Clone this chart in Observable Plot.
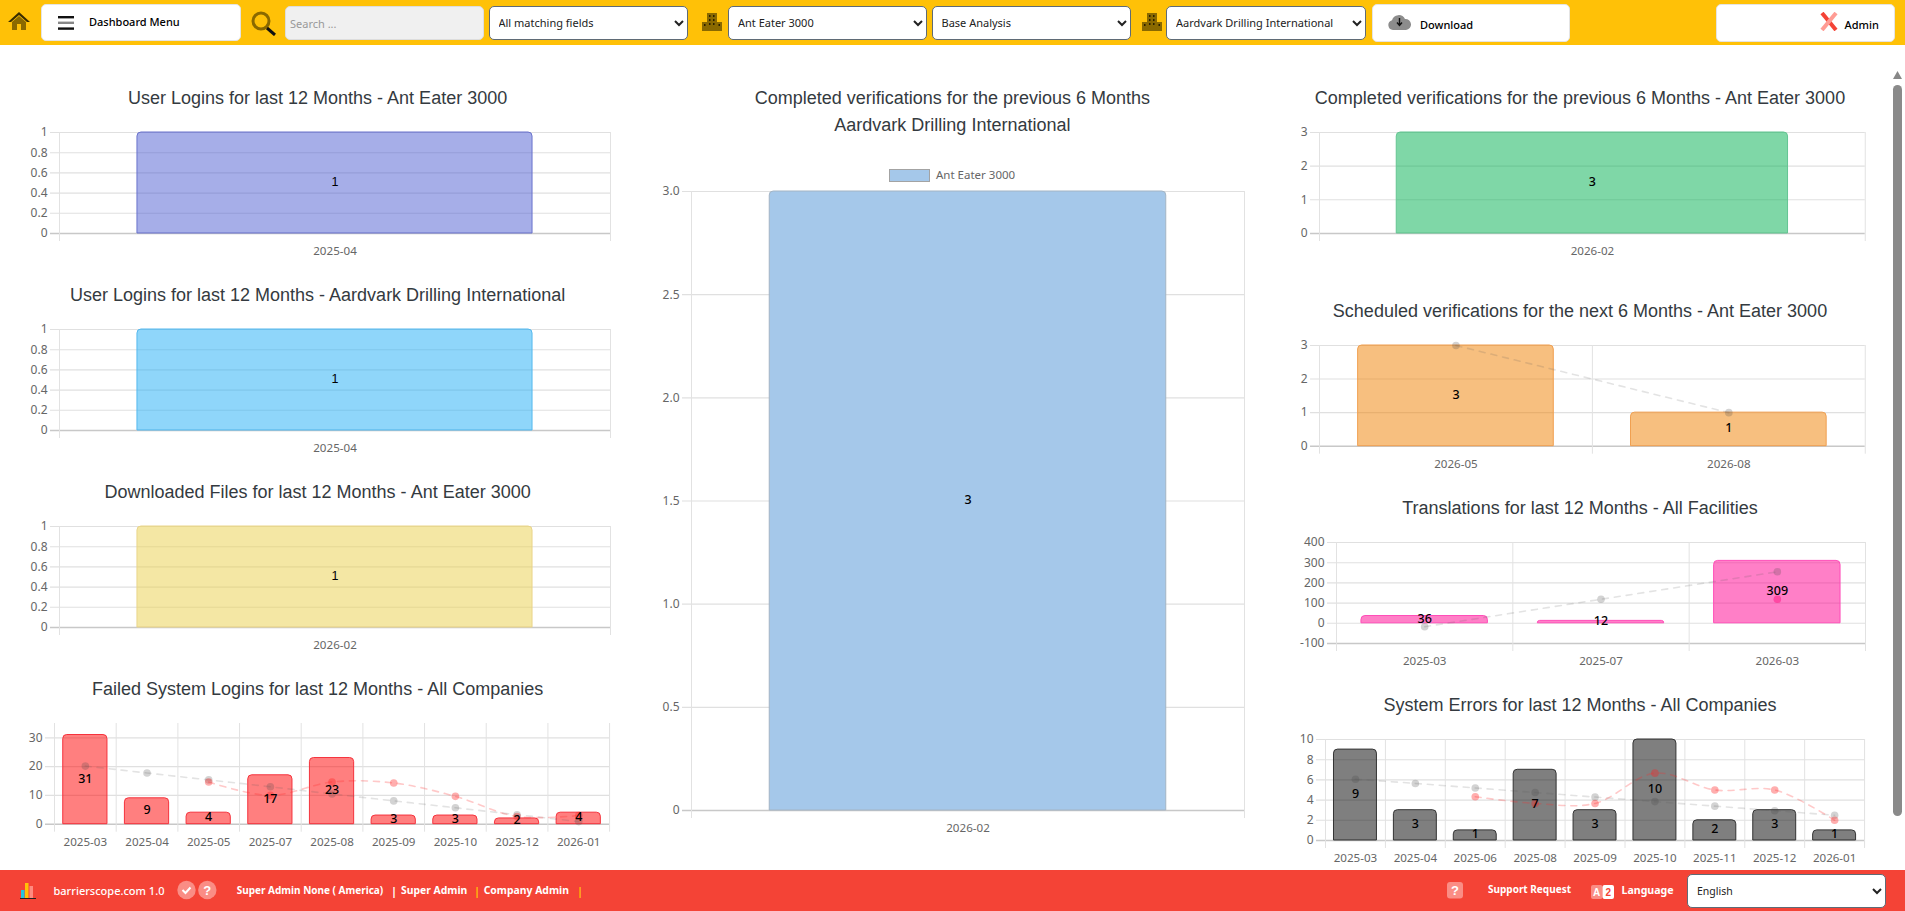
<!DOCTYPE html>
<html><head><meta charset="utf-8"><title>Dashboard</title>
<script src="https://cdn.jsdelivr.net/npm/d3@7"></script>
<script src="https://cdn.jsdelivr.net/npm/@observablehq/plot@0.6"></script>
<style>
html,body{margin:0;padding:0;width:1905px;height:911px;overflow:hidden;background:#fff;font-family:"Liberation Sans",Arial,sans-serif}
.abs{position:absolute}
#head{left:0;top:0;width:1905px;height:45px;background:#ffc107}
#foot{left:0;top:870px;width:1905px;height:41px;background:#f44336}
.btn{position:absolute;background:#fff;border:1px solid #e4e4e4;border-radius:5px;box-sizing:border-box}
select{position:absolute;box-sizing:border-box;top:5.5px;height:34px;background:#fff;border:1px solid #5f6b76;border-radius:5px;font:11px "Noto Sans",sans-serif;color:#222;padding-left:5px}
.t{position:absolute;white-space:nowrap;transform:translateY(-50%)}
.title{position:absolute;transform:translate(-50%,-50%);white-space:nowrap;font:18px "Liberation Sans",Arial,sans-serif;color:#343a40}
.ft{font:bold 11px "Noto Sans",sans-serif;color:#fff}
.panel{position:absolute}
.panel svg{display:block;overflow:visible;background:transparent}
</style></head><body>
<div id="head" class="abs"></div>
<div id="foot" class="abs"></div>
<div id="charts"></div>
<script>
// ---------- data ----------
const loginCompanyMonths = ["2025-04"], loginCompanyValues = [1];
const loginClientMonths = ["2025-04"], loginClientValues = [1];
const downloadMonths = ["2026-02"], downloadValues = [1];
const failedMonths = ["2025-03","2025-04","2025-05","2025-07","2025-08","2025-09","2025-10","2025-12","2026-01"];
const failedValues = [31,9,4,17,23,3,3,2,4];
const failedTrend = [20.2,17.8,15.4,13,10.5,8.1,5.7,3.3,0.9];
const failedAverage = [null,null,14.67,10,14.67,14.33,9.67,2.67,3];
const completedClientMonths = ["2026-02"], completedClientValues = [3];
const completedMonths = ["2026-02"], completedValues = [3];
const scheduledMonths = ["2026-05","2026-08"], scheduledValues = [3,1], scheduledTrend = [3,1];
const translationMonths = ["2025-03","2025-07","2026-03"];
const translationValues = [36,12,309];
const translationTrend = [-17,119,255];
const translationAverage = [null,null,119];
const errorMonths = ["2025-03","2025-04","2025-06","2025-08","2025-09","2025-10","2025-11","2025-12","2026-01"];
const errorValues = [9,3,1,7,3,10,2,3,1];
const errorTrend = [6.07,5.65,5.2,4.75,4.3,3.85,3.4,2.95,2.5];
const errorAverage = [null,null,4.33,3.67,3.67,6.67,5,5,2];
const unitTicks = [0,0.2,0.4,0.6,0.8,1];
const companyTicks = [0,1,2,3];
const failedTicks = [0,10,20,30];
const translationTicks = [-100,0,100,200,300,400];
const errorTicks = [0,2,4,6,8,10];
const bigTicks = [0,0.5,1,1.5,2,2.5,3];
const titles = {
  a:"User Logins for last 12 Months - Ant Eater 3000",
  b:"User Logins for last 12 Months - Aardvark Drilling International",
  c:"Downloaded Files for last 12 Months - Ant Eater 3000",
  d:"Failed System Logins for last 12 Months - All Companies",
  e:["Completed verifications for the previous 6 Months","Aardvark Drilling International"],
  f:"Completed verifications for the previous 6 Months - Ant Eater 3000",
  g:"Scheduled verifications for the next 6 Months - Ant Eater 3000",
  h:"Translations for last 12 Months - All Facilities",
  i:"System Errors for last 12 Months - All Companies"
};

// ---------- chart helper ----------
const holder = document.getElementById("charts");
const ML = 46, MT = 12, MB = 26, MR = 4, TICK_L = 9, TICK_B = 8;
const sans = '"Noto Sans",sans-serif', arial = '"Liberation Sans",Arial,sans-serif';
function chart(o){
  const plotW = o.right - o.left, plotH = o.bottom - o.top;
  const n = o.months.length, step = plotW / n;
  const rows = o.months.map((m,i)=>({m, v:o.values[i], t:o.trend?o.trend[i]:null, a:o.average?o.average[i]:null}));
  const dom = o.domain;
  const band = o.band || 0.283;
  const gridEdges = [{m:o.months[0],dx:-step/2}].concat(o.months.map(m=>({m,dx:step/2})));
  const marks = [
    ...o.ticks.map(t=>Plot.ruleY([t],{stroke:t===dom[0]?"#c8c8c8":"#e0e0e0",strokeWidth:t===dom[0]?1.4:1.1})),
    ...gridEdges.map(g=>Plot.ruleX([g.m],{dx:g.dx,stroke:"#e2e2e2",strokeWidth:1})),
    Plot.barY(rows,{x:"m",y:"v",fill:o.fill,fillOpacity:o.opacity,stroke:o.edge,strokeWidth:1,ry1:o.radius||4}),
  ];
  if(o.trend) marks.push(
    Plot.line(rows,{x:"m",y:"t",stroke:"rgba(90,90,90,0.17)",strokeWidth:1.6,strokeDasharray:"6,6",curve:"catmull-rom"}),
    Plot.dot(rows,{x:"m",y:"t",r:3.8,fill:"rgba(70,70,70,0.24)"})
  );
  if(o.average) marks.push(
    Plot.line(rows.filter(d=>d.a!=null),{x:"m",y:"a",stroke:o.avgLine||"rgba(255,40,40,0.25)",strokeWidth:1.6,strokeDasharray:"6,6",curve:"catmull-rom"}),
    Plot.dot(rows,{x:"m",y:"a",r:3.8,fill:o.avgDot||"rgba(255,30,30,0.36)"})
  );
  marks.push(
    Plot.axisY({ticks:o.ticks,tickSize:0,tickPadding:3,fontSize:12,fontFamily:sans,fill:"#666",label:null,tickFormat:o.format||(d=>String(d))}),
    Plot.axisX({tickSize:0,tickPadding:5.5,fontSize:11.6,fontFamily:sans,fill:"#666",label:null}),
    Plot.text(rows,{x:"m",y:d=>d.v/2,text:d=>String(d.v),dy:-1,fill:"#000",fontSize:12.5,fontFamily:o.labelFont||sans,fontWeight:o.labelWeight||500})
  );
  const el = Plot.plot({
    width: plotW + TICK_L + ML + MR,
    height: MT + plotH + TICK_B + MB,
    marginLeft: ML, marginRight: MR, marginTop: MT, marginBottom: MB,
    insetLeft: TICK_L, insetBottom: TICK_B,
    style:{background:"transparent",overflow:"visible"},
    x:{type:"band",domain:o.months,paddingInner:band,paddingOuter:band/2,align:0.5,round:false,label:null,axis:null},
    y:{domain:dom,label:null,axis:null},
    marks
  });
  const box = document.createElement("div");
  box.className = "panel";
  box.style.left = (o.left - TICK_L - ML) + "px";
  box.style.top = (o.top - MT) + "px";
  box.appendChild(el);
  holder.appendChild(box);
  [].concat(o.title).forEach((line,i)=>{
    const t = document.createElement("div");
    t.className = "title"; t.textContent = line;
    t.style.left = o.titleX + "px"; t.style.top = (o.titleY + i*27) + "px";
    holder.appendChild(t);
  });
}
const fmtBig = d => d===0 ? "0" : d.toFixed(1);
const col1 = {left:58.6,right:609.6,titleX:317.6}, col3 = {left:1318.6,right:1864.4,titleX:1580};
chart({...col1,top:132.3,bottom:233.3,titleY:98,title:titles.a,months:loginCompanyMonths,values:loginCompanyValues,ticks:unitTicks,domain:[0,1],fill:"#4655cf",opacity:.48,edge:"#6a72cc",labelFont:arial,labelWeight:400});
chart({...col1,top:329.3,bottom:430.3,titleY:294.7,title:titles.b,months:loginClientMonths,values:loginClientValues,ticks:unitTicks,domain:[0,1],fill:"#29b0f6",opacity:.52,edge:"#55b8ee",labelFont:arial,labelWeight:400});
chart({...col1,top:526.3,bottom:627.3,titleY:491.7,title:titles.c,months:downloadMonths,values:downloadValues,ticks:unitTicks,domain:[0,1],fill:"#e9d04a",opacity:.5,edge:"#ead58a",labelFont:arial,labelWeight:400});
chart({left:54.3,right:609.4,top:723.3,bottom:824,titleX:317.6,titleY:688.7,title:titles.d,months:failedMonths,values:failedValues,trend:failedTrend,average:failedAverage,ticks:failedTicks,domain:[0,35],fill:"#ff0000",opacity:.5,edge:"#f5323c"});
chart({left:691.4,right:1244.4,top:191.3,bottom:810.3,titleX:952.4,titleY:98,title:titles.e,months:completedClientMonths,values:completedClientValues,ticks:bigTicks,domain:[0,3],fill:"#a5c8ea",opacity:1,edge:"#a3b4c4",format:fmtBig});
chart({...col3,top:132.3,bottom:233.3,titleY:98,title:titles.f,months:completedMonths,values:completedValues,ticks:companyTicks,domain:[0,3],fill:"#00b050",opacity:.5,edge:"#63c593"});
chart({...col3,top:345.3,bottom:446,titleY:310.7,title:titles.g,months:scheduledMonths,values:scheduledValues,trend:scheduledTrend,ticks:companyTicks,domain:[0,3],fill:"#ef7f00",opacity:.5,edge:"#f0a050"});
chart({left:1335.6,right:1864.6,top:542.3,bottom:643.3,titleX:1580,titleY:507.7,title:titles.h,months:translationMonths,values:translationValues,trend:translationTrend,average:translationAverage,ticks:translationTicks,domain:[-100,400],fill:"#ff0090",opacity:.5,edge:"#ff4db8",avgDot:"rgba(255,20,130,.5)",avgLine:"rgba(255,20,130,0)"});
chart({left:1324.7,right:1863.8,top:739,bottom:840,titleX:1580,titleY:705,title:titles.i,months:errorMonths,values:errorValues,trend:errorTrend,average:errorAverage,ticks:errorTicks,domain:[0,10],fill:"#000000",opacity:.5,edge:"#333"});

// ---------- page chrome ----------
const head = document.getElementById("head"), foot = document.getElementById("foot");
function add(parent, html){ parent.insertAdjacentHTML("beforeend", html); }
const dark = "#8a6900";
const building = x=>`<svg class="abs" style="left:${x}px;top:13px" width="20" height="18" viewBox="0 0 20 18"><path fill="${dark}" d="M0 9h5V0h10v9h5v9H0z"/><path fill="#2b2100" d="M7 2h1.5v2H7zM11 2h1.5v2H11zM7 6h1.5v2H7zM11 6h1.5v2H11zM7 10h1.5v2H7zM11 10h1.5v2H11zM2 11h1.5v2H2zM16.5 11H18v2h-1.5z"/></svg>`;
add(head,`<svg class="abs" style="left:8px;top:12px" width="22" height="18" viewBox="0 0 22 18"><path fill="#3a2d00" d="M11 0 0 10h3l8-7 8 7h3z"/><path fill="${dark}" d="M4 10l7-6 7 6v8h-5v-6H9v6H4z"/></svg>`);
add(head,`<div class="btn" style="left:40.5px;top:4px;width:200px;height:37px"></div>`);
add(head,`<svg class="abs" style="left:57.5px;top:16px" width="16" height="14"><rect width="16" height="2.4" fill="#111"/><rect y="5.6" width="16" height="2.4" fill="#888"/><rect y="11.4" width="16" height="2.4" fill="#111"/></svg>`);
add(head,`<div class="t" style="left:89px;top:21px;font:500 11px 'Noto Sans',sans-serif;color:#000">Dashboard Menu</div>`);
add(head,`<svg class="abs" style="left:251px;top:11px" width="26" height="25" viewBox="0 0 26 25"><circle cx="10" cy="10" r="8" fill="none" stroke="${dark}" stroke-width="3"/><path d="M16 17l8 7" stroke="#111" stroke-width="3"/></svg>`);
add(head,`<div class="abs" style="left:285px;top:5.5px;width:199px;height:34px;background:#f0f0f0;border:1px solid #ddd;border-radius:5px;box-sizing:border-box"></div>`);
add(head,`<div class="t" style="left:290px;top:23px;font:11px 'Noto Sans',sans-serif;color:#999">Search ...</div>`);
add(head,`<select style="left:488.5px;width:199.5px"><option>All matching fields</option></select>`);
add(head,building(702.4));
add(head,`<select style="left:728px;width:199px"><option>Ant Eater 3000</option></select>`);
add(head,`<select style="left:931.5px;width:199.5px"><option>Base Analysis</option></select>`);
add(head,building(1141.8));
add(head,`<select style="left:1166px;width:199.5px"><option>Aardvark Drilling International</option></select>`);
add(head,`<div class="btn" style="left:1371.5px;top:3.5px;width:198.5px;height:38px"></div>`);
add(head,`<svg class="abs" style="left:1388px;top:14px" width="23" height="16" viewBox="0 0 23 16"><path fill="#8c8c8c" d="M5 16a5 5 0 0 1-1-9.8A7 7 0 0 1 17 5a5.5 5.5 0 0 1 1 11z"/><path d="M11.5 4v7m-2.5-2.5 2.5 3 2.500-3" stroke="#111" stroke-width="1.4" fill="none"/></svg>`);
add(head,`<div class="t" style="left:1420px;top:24px;font:500 11px 'Noto Sans',sans-serif;color:#000">Download</div>`);
add(head,`<div class="btn" style="left:1715.5px;top:3.5px;width:179.5px;height:38px"></div>`);
add(head,`<svg class="abs" style="left:1820px;top:12px" width="18" height="19" viewBox="0 0 18 19"><path d="M2 1l14 17" stroke="#f44336" stroke-width="4"/><path d="M16 1 2 18" stroke="#ff9c94" stroke-width="4"/></svg>`);
add(head,`<div class="t" style="left:1844.5px;top:24px;font:500 11px 'Noto Sans',sans-serif;color:#000">Admin</div>`);

add(foot,`<svg class="abs" style="left:19.500px;top:11.500px" width="16" height="17"><rect x="1" y="8" width="3.500" height="8" fill="#22c5e0"/><rect x="5" y="1" width="3.500" height="15" fill="#ffc107"/><rect x="9.500" y="4" width="3.500" height="12" fill="#ff8a80"/><rect y="16" width="16" height="1" fill="#222"/></svg>`);
add(foot,`<div class="t ft" style="left:53.5px;top:19.5px;font-weight:500">barrierscope.com 1.0</div>`);
add(foot,`<svg class="abs" style="left:177px;top:10px" width="40" height="20"><circle cx="9.500" cy="10" r="9.200" fill="#fa8d85"/><circle cx="30.300" cy="10" r="9.200" fill="#fa8d85"/><path d="M5.500 10l3 3 5-5.500" stroke="#fff" stroke-width="2" fill="none"/><text x="30.300" y="14.500" text-anchor="middle" fill="#fff" font-size="13" font-weight="bold" font-family="Liberation Sans">?</text></svg>`);
add(foot,`<div class="t ft" style="left:236.7px;top:19.5px;font-size:10px">Super Admin None ( America)</div>`);
add(foot,`<div class="t ft" style="left:391px;top:19.5px">|</div>`);
add(foot,`<div class="t ft" style="left:401px;top:19.5px;font-size:10.4px">Super Admin</div>`);
add(foot,`<div class="t ft" style="left:474px;top:19.5px;color:#ffc107">|</div>`);
add(foot,`<div class="t ft" style="left:483.7px;top:19.5px;font-size:10.4px">Company Admin</div>`);
add(foot,`<div class="t ft" style="left:577px;top:19.5px;color:#ffc107">|</div>`);
add(foot,`<svg class="abs" style="left:1447px;top:12px" width="16" height="16.500"><rect width="16" height="16.500" rx="3" fill="#fa8d85"/><text x="8" y="13" text-anchor="middle" fill="#fff" font-size="13" font-weight="bold" font-family="Liberation Sans">?</text></svg>`);
add(foot,`<div class="t ft" style="left:1488px;top:19px;font-size:10px">Support Request</div>`);
add(foot,`<svg class="abs" style="left:1590.500px;top:15px" width="23" height="14"><rect width="11.500" height="14" rx="2" fill="#fa8d85"/><rect x="11.500" width="11.500" height="14" rx="2" fill="#fff"/><text x="5.700" y="11" text-anchor="middle" fill="#fff" font-size="10" font-weight="bold" font-family="Liberation Sans">A</text><text x="17.200" y="11" text-anchor="middle" fill="#f44336" font-size="10" font-weight="bold" font-family="Liberation Sans">2</text></svg>`);
add(foot,`<div class="t ft" style="left:1621.5px;top:20px;font-size:10.6px">Language</div>`);
add(foot,`<select style="left:1687px;top:3.5px;width:198.5px;height:34px;font-size:10.5px;padding-left:5px"><option>English</option></select>`);

// legend of the centre chart
add(holder,`<div class="abs" style="left:889px;top:168.5px;width:41px;height:13px;box-sizing:border-box;background:#a5c8ea;border:1.500px solid #a3a3a3"></div>`);
add(holder,`<div class="t" style="left:936px;top:174px;font:11.5px 'Noto Sans',sans-serif;color:#666">Ant Eater 3000</div>`);
// scrollbar
add(holder,`<svg class="abs" style="left:1893px;top:71px" width="9" height="8"><path d="M4.500 0 9 8H0z" fill="#888"/></svg>`);
add(holder,`<div class="abs" style="left:1893px;top:85px;width:9px;height:731px;background:#8a8a8a;border-radius:5px"></div>`);
</script>
</body></html>
